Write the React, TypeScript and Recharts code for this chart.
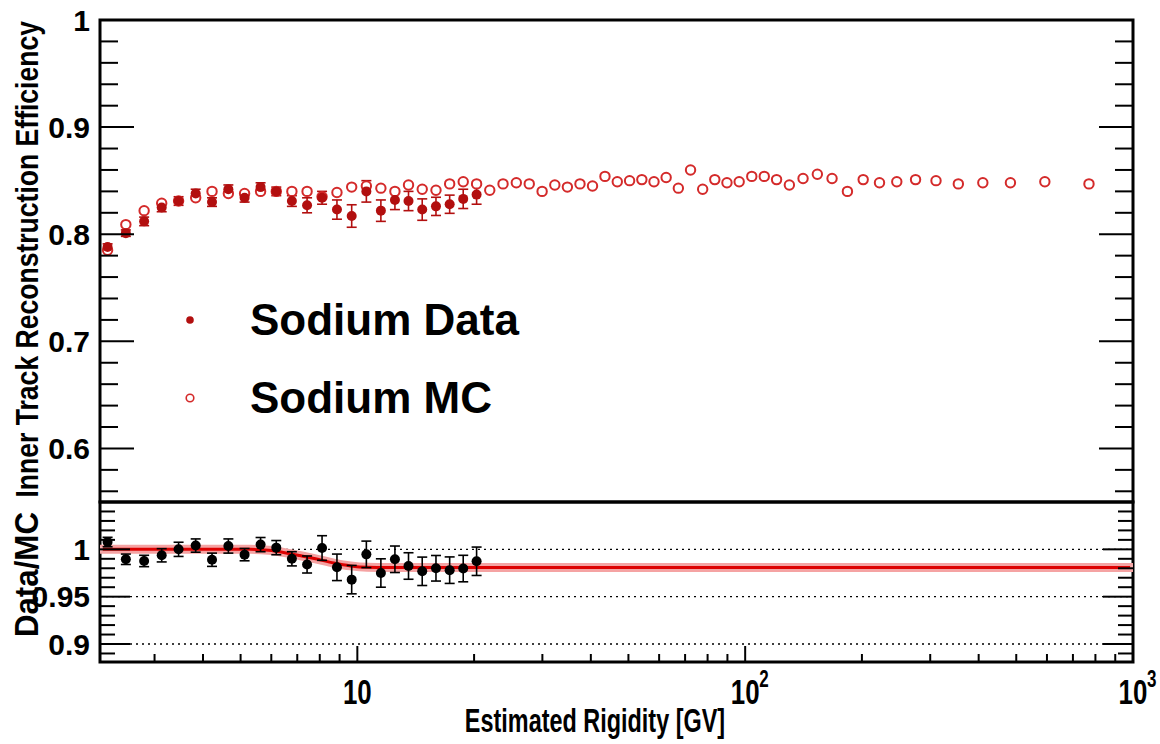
import React from 'react';
import { ComposedChart, Scatter, Line, XAxis, YAxis, ErrorBar, ReferenceArea, ReferenceLine, Legend } from 'recharts';

// ---------- data ----------
const rigidity = [2.27, 2.53, 2.82, 3.13, 3.46, 3.83, 4.22, 4.65, 5.12, 5.63, 6.18, 6.78, 7.42, 8.11, 8.86, 9.67, 10.55, 11.5, 12.5, 13.55, 14.7, 15.95, 17.3, 18.75, 20.3];
const dataEff = [0.788, 0.801, 0.812, 0.825, 0.831, 0.838, 0.830, 0.842, 0.834, 0.844, 0.840, 0.831, 0.827, 0.834, 0.823, 0.817, 0.840, 0.822, 0.832, 0.831, 0.823, 0.826, 0.828, 0.833, 0.837];
const dataErr = [0.003, 0.003, 0.004, 0.004, 0.004, 0.004, 0.004, 0.004, 0.004, 0.004, 0.004, 0.005, 0.007, 0.006, 0.009, 0.0105, 0.010, 0.010, 0.009, 0.009, 0.010, 0.0085, 0.0085, 0.009, 0.009];

const rigidityMC = [2.27, 2.53, 2.82, 3.13, 3.46, 3.83, 4.22, 4.65, 5.12, 5.63, 6.18, 6.78, 7.42, 8.11, 8.86, 9.67, 10.55, 11.5, 12.5, 13.55, 14.7, 15.95, 17.3, 18.75, 20.3,
  21.95, 23.75, 25.7, 27.75, 29.95, 32.3, 34.8, 37.5, 40.4, 43.5, 46.8, 50.35, 54.15, 58.2, 62.55, 67.25, 72.3, 77.7, 83.5, 89.75, 96.5,
  104, 112, 120.5, 130, 141, 153.5, 167.5, 183.5, 201.5, 222, 246, 275, 310.5, 354.5, 410, 483, 592.5, 770];
const mcEff = [0.785, 0.809, 0.822, 0.829, 0.831, 0.834, 0.840, 0.838, 0.838, 0.840, 0.840, 0.840, 0.840, 0.835, 0.839, 0.844, 0.845, 0.843, 0.840, 0.846, 0.842, 0.841, 0.847, 0.849, 0.847,
  0.841, 0.847, 0.848, 0.847, 0.840, 0.846, 0.844, 0.847, 0.845, 0.854, 0.849, 0.850, 0.851, 0.849, 0.853, 0.843, 0.860, 0.842, 0.851, 0.848, 0.849,
  0.854, 0.854, 0.851, 0.846, 0.852, 0.856, 0.852, 0.840, 0.851, 0.848, 0.849, 0.851, 0.850, 0.847, 0.848, 0.848, 0.849, 0.847];

const ratio = [1.0077, 0.9895, 0.9877, 0.9937, 1.000, 1.004, 0.989, 1.0035, 0.9944, 1.005, 1.0018, 0.990, 0.984, 1.0014, 0.981, 0.968, 0.9947, 0.975, 0.9895, 0.9824, 0.9768, 0.980, 0.978, 0.9797, 0.9874];
const ratioErr = [0.005, 0.0055, 0.006, 0.007, 0.0075, 0.007, 0.007, 0.0075, 0.0065, 0.0075, 0.0075, 0.0075, 0.009, 0.013, 0.014, 0.015, 0.014, 0.015, 0.014, 0.014, 0.015, 0.0135, 0.014, 0.014, 0.015];

const fitRigidity = [2.17, 5.3, 5.9, 6.5, 7.1, 7.8, 8.7, 9.6, 10.6, 12, 1000];
const fitRatio = [1.0, 1.0, 0.999, 0.9965, 0.9935, 0.990, 0.9855, 0.9825, 0.981, 0.9807, 0.9807];

const topMajorTicks = [0.6, 0.7, 0.8, 0.9, 1];
const topTickLabels = ['0.6', '0.7', '0.8', '0.9', '1'];
const bottomMajorTicks = [0.9, 0.95, 1];
const bottomTickLabels = ['0.9', '0.95', '1'];
const xMajorTicks = [10, 100, 1000];
const xTickExponents = ['', '2', '3'];
const xMinorTicks = [3, 4, 5, 6, 7, 8, 9, 20, 30, 40, 50, 60, 70, 80, 90, 200, 300, 400, 500, 600, 700, 800, 900];
const legendItems = [
  { name: 'Sodium Data', filled: true },
  { name: 'Sodium MC', filled: false },
];

// ---------- derived tables ----------
const dataPoints = rigidity.map((x, i) => ({ x, y: dataEff[i], err: dataErr[i] }));
const mcPoints = rigidityMC.map((x, i) => ({ x, y: mcEff[i] }));
const ratioPoints = rigidity.map((x, i) => ({ x, y: ratio[i], err: ratioErr[i] }));
const fitPoints = fitRigidity.map((x, i) => ({ x, y: fitRatio[i] }));

const topTicks: number[] = [];
for (let i = 28; i <= 50; i++) topTicks.push(Math.round(i * 2) / 100);
const bottomTicks: number[] = [];
for (let i = 89; i <= 104; i++) bottomTicks.push(i / 100);
const xTicks = [...xMinorTicks, ...xMajorTicks].sort((a, b) => a - b);

const X_DOMAIN: [number, number] = [2.17, 1000];
const PLOT_W = 1033;
const FONT = "'Liberation Sans', Arial, Helvetica, sans-serif";
const DATA_RED = '#b20f0f';
const MC_RED = '#d42a2a';

const near = (a: number, b: number) => Math.abs(a - b) < 1e-6;

const makeYTick = (majors: number[], labels: string[], majorLen: number, minorLen: number) => (props: any) => {
  const { x, y, payload } = props;
  const v = payload.value;
  const idx = majors.findIndex((m) => near(m, v));
  const len = idx >= 0 ? majorLen : minorLen;
  return (
    <g>
      <line x1={x} x2={x + len} y1={y} y2={y} stroke="#000" strokeWidth={2} />
      <line x1={x + PLOT_W - len} x2={x + PLOT_W} y1={y} y2={y} stroke="#000" strokeWidth={2} />
      {idx >= 0 && (
        <text x={x - 10} y={y} dy="0.36em" textAnchor="end" fontFamily={FONT} fontWeight="bold" fontSize={30} fill="#000">
          {labels[idx]}
        </text>
      )}
    </g>
  );
};

const XTick = (props: any) => {
  const { x, y, payload } = props;
  const v = payload.value;
  const idx = xMajorTicks.findIndex((m) => near(m, v));
  const len = idx >= 0 ? 16 : 8;
  return (
    <g>
      <line x1={x} x2={x} y1={y} y2={y - len} stroke="#000" strokeWidth={2} />
      {idx >= 0 && (
        <g>
          <text transform={`translate(${x},${y + 42}) scale(0.74,1)`} textAnchor="middle" fontFamily={FONT} fontWeight="bold" fontSize={35} fill="#000">
            10
          </text>
          {xTickExponents[idx] && (
            <text transform={`translate(${x + 14},${y + 25}) scale(0.74,1)`} textAnchor="start" fontFamily={FONT} fontWeight="bold" fontSize={23} fill="#000">
              {xTickExponents[idx]}
            </text>
          )}
        </g>
      )}
    </g>
  );
};

const YTitle = ({ viewBox, text, size, sx, endOffset }: any) => {
  const x = (viewBox?.x ?? 0) + 38;
  const y = (viewBox?.y ?? 0) + endOffset;
  return (
    <text transform={`translate(${x},${y}) rotate(-90) scale(${sx},1)`} textAnchor="end" fontFamily={FONT} fontWeight="bold" fontSize={size} fill="#000">
      {text}
    </text>
  );
};

const XTitle = ({ viewBox }: any) => {
  const x = (viewBox?.x ?? 100) + 495;
  const y = (viewBox?.y ?? 662) + 70;
  return (
    <text transform={`translate(${x},${y}) scale(0.71,1)`} textAnchor="middle" fontFamily={FONT} fontWeight="bold" fontSize={33} fill="#000">
      Estimated Rigidity [GV]
    </text>
  );
};

const FilledDot = (props: any) => <circle cx={props.cx} cy={props.cy} r={5} fill={DATA_RED} />;
const HollowDot = (props: any) => <circle cx={props.cx} cy={props.cy} r={4.7} fill="#fff" stroke={MC_RED} strokeWidth={2} />;
const BlackDot = (props: any) => <circle cx={props.cx} cy={props.cy} r={5} fill="#000" />;

const FitEndDot = (props: any) => {
  const { cx, cy, index } = props;
  if (index === 0 || index === fitPoints.length - 1) {
    return <circle key={`fe-${index}`} cx={cx} cy={cy} r={3} fill="#f7b0b0" />;
  }
  return <g key={`fe-${index}`} />;
};

const LegendContent = () => (
  <div style={{ fontFamily: FONT, fontWeight: 'bold', fontSize: 44, color: '#000' }}>
    {legendItems.map((it) => (
      <div key={it.name} style={{ display: 'flex', alignItems: 'center', height: 78 }}>
        <svg width={60} height={20} style={{ marginRight: 20 }}>
          {it.filled ? (
            <circle cx={20} cy={10} r={3.8} fill={DATA_RED} />
          ) : (
            <circle cx={20} cy={10} r={3.8} fill="#fff" stroke={MC_RED} strokeWidth={1.6} />
          )}
        </svg>
        <span style={{ lineHeight: 1 }}>{it.name}</span>
      </div>
    ))}
  </div>
);

export default function App() {
  return (
    <div style={{ position: 'absolute', left: 0, top: 0, width: 1160, height: 744, background: '#fff', overflow: 'hidden' }}>
      <div style={{ position: 'absolute', left: 0, top: 0 }}>
        <ComposedChart width={1160} height={520} margin={{ top: 20, right: 27, bottom: 18, left: 0 }}>
          <XAxis type="number" dataKey="x" scale="log" domain={X_DOMAIN} allowDataOverflow hide />
          <YAxis
            type="number"
            dataKey="y"
            domain={[0.55, 1]}
            allowDataOverflow
            width={100}
            ticks={topTicks}
            interval={0}
            tickSize={0}
            tickMargin={0}
            axisLine={false}
            tickLine={false}
            tick={makeYTick(topMajorTicks, topTickLabels, 34, 18)}
            label={<YTitle text="Inner Track Reconstruction Efficiency" size={32} sx={0.83} endOffset={1} />}
          />
          <ReferenceArea x1={X_DOMAIN[0]} x2={X_DOMAIN[1]} y1={0.55} y2={1} fill="none" fillOpacity={0} stroke="#000" strokeWidth={3} ifOverflow="visible" />
          <Scatter name="Sodium MC" data={mcPoints} shape={<HollowDot />} isAnimationActive={false} />
          <Scatter name="Sodium Data" data={dataPoints} shape={<FilledDot />} isAnimationActive={false}>
            <ErrorBar dataKey="err" direction="y" width={5} stroke={DATA_RED} strokeWidth={1.6} />
          </Scatter>
          <Legend
            layout="vertical"
            align="center"
            verticalAlign="middle"
            content={<LegendContent />}
            wrapperStyle={{ position: 'absolute', left: 170, top: 281, width: 420, height: 160 }}
          />
        </ComposedChart>
      </div>
      <div style={{ position: 'absolute', left: 0, top: 490 }}>
        <ComposedChart width={1160} height={254} margin={{ top: 12, right: 27, bottom: 0, left: 0 }}>
          <XAxis
            type="number"
            dataKey="x"
            scale="log"
            domain={X_DOMAIN}
            allowDataOverflow
            ticks={xTicks}
            interval={0}
            height={82}
            tickSize={0}
            tickMargin={0}
            axisLine={false}
            tickLine={false}
            tick={XTick}
            label={<XTitle />}
          />
          <YAxis
            type="number"
            dataKey="y"
            domain={[0.881, 1.05]}
            allowDataOverflow
            width={100}
            ticks={bottomTicks}
            interval={0}
            tickSize={0}
            tickMargin={0}
            axisLine={false}
            tickLine={false}
            tick={makeYTick(bottomMajorTicks, bottomTickLabels, 30, 15)}
            label={<YTitle text="Data/MC" size={34} sx={0.92} endOffset={10} />}
          />
          {bottomMajorTicks.map((v) => (
            <ReferenceLine key={v} y={v} stroke="#000" strokeWidth={1.3} strokeDasharray="2 4" />
          ))}
          <Line data={fitPoints} dataKey="y" type="monotone" stroke="#f5a3a3" strokeWidth={9} dot={<FitEndDot />} isAnimationActive={false} />
          <Line data={fitPoints} dataKey="y" type="monotone" stroke="#dd0000" strokeWidth={3} dot={false} isAnimationActive={false} />
          <Scatter data={ratioPoints} shape={<BlackDot />} isAnimationActive={false}>
            <ErrorBar dataKey="err" direction="y" width={5} stroke="#000" strokeWidth={1.6} />
          </Scatter>
          <ReferenceArea x1={X_DOMAIN[0]} x2={X_DOMAIN[1]} y1={0.881} y2={1.05} fill="none" fillOpacity={0} stroke="#000" strokeWidth={3} ifOverflow="visible" />
        </ComposedChart>
      </div>
    </div>
  );
}
